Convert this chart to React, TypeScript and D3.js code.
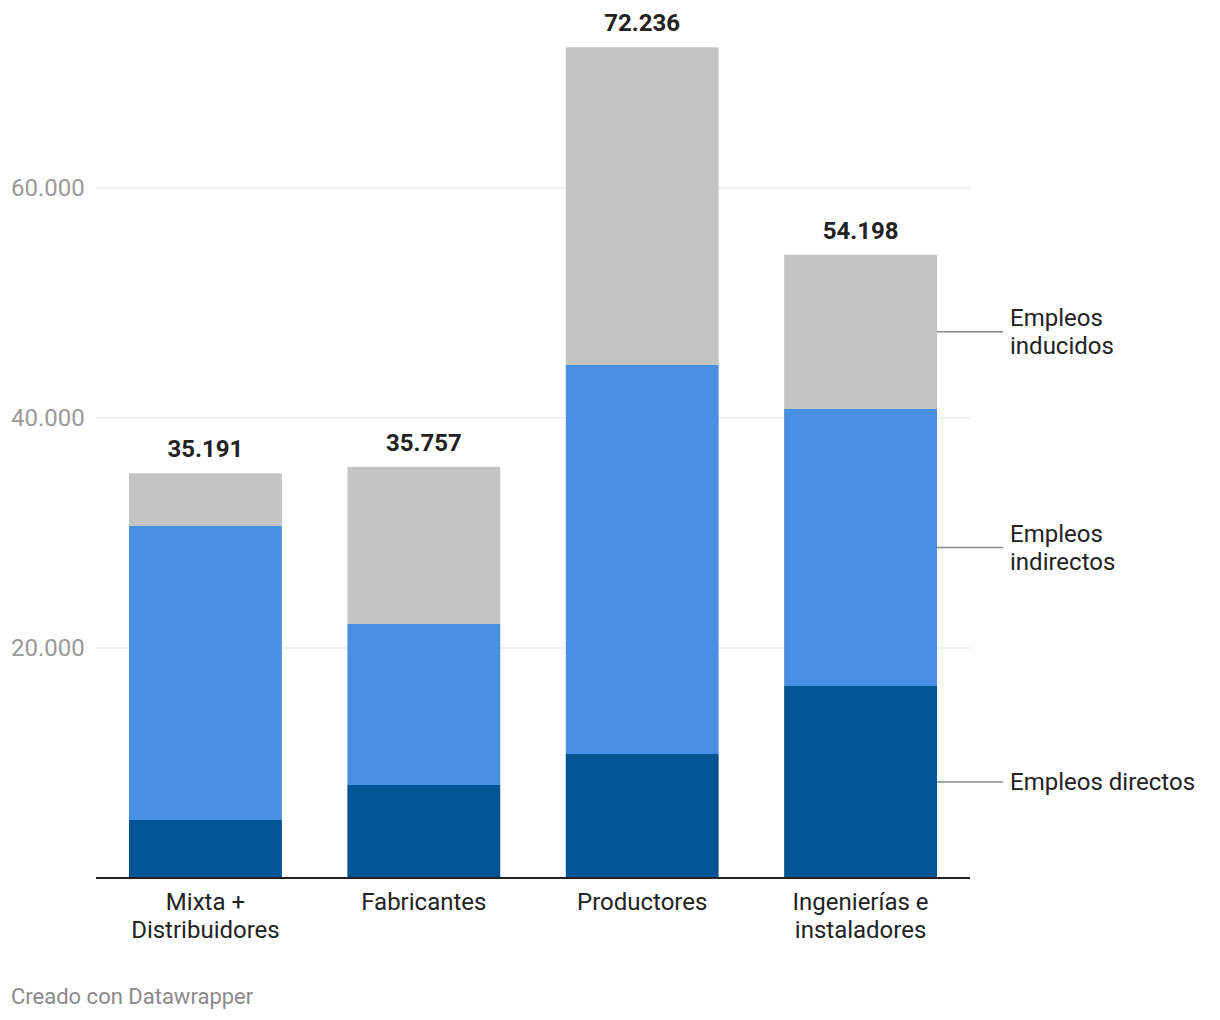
import * as d3 from "d3";

const categories = [["Mixta +", "Distribuidores"], ["Fabricantes"], ["Productores"], ["Ingenierías e", "instaladores"]];
const directos = [5043, 8087, 10783, 16696];
const indirectos = [25566, 14000, 33826, 24087];
const inducidos = [4582, 13670, 27627, 13415];
const totals = ["35.191", "35.757", "72.236", "54.198"];
const seriesNames = [["Empleos", "directos"], ["Empleos", "indirectos"], ["Empleos", "inducidos"]];
const colors = ["#005494", "#4a90e2", "#c4c4c4"];
const yTicks = [20000, 40000, 60000];

const W = 1220, H = 1020;
const font = "Roboto, 'Noto Sans', sans-serif";

export default function App() {
  const x0 = 96, x1 = 970;
  const y = d3.scaleLinear().domain([0, 60000]).range([878, 188]);
  const x = d3.scaleBand<number>().domain(d3.range(4)).range([x0 + 33, x1 - 33]).paddingInner(0.3).paddingOuter(0);
  const rows = categories.map((_, i) => ({ i, d: directos[i], n: indirectos[i], u: inducidos[i] }));
  const stack = d3.stack<any>().keys(["d", "n", "u"])(rows);
  const fmt = (v: number) => d3.format(",")(v).replace(/,/g, ".");
  const last = 3;

  return (
    <svg width={W} height={H} style={{ position: "absolute", left: 0, top: 0, background: "#fff" }} fontFamily={font}>
      {yTicks.map(t => (
        <g key={t}>
          <line x1={x0} x2={x1} y1={y(t)} y2={y(t)} stroke="#e2e2e2" strokeWidth={1.2} />
          <text x={11} y={y(t)} dy="0.35em" fontSize={24} fill="#9a9a9a">{fmt(t)}</text>
        </g>
      ))}
      {stack.map((s, k) => (
        <g key={k} fill={colors[k]}>
          {s.map((p, i) => (
            <rect key={i} x={x(i)} width={x.bandwidth()} y={y(p[1])} height={y(p[0]) - y(p[1])} />
          ))}
        </g>
      ))}
      <line x1={x0} x2={x1} y1={878} y2={878} stroke="#222" strokeWidth={2} />
      {rows.map((r, i) => (
        <text key={i} x={x(i)! + x.bandwidth() / 2} y={y(r.d + r.n + r.u) - 16} textAnchor="middle" fontSize={24} fontWeight={700} fill="#222">{totals[i]}</text>
      ))}
      {categories.map((c, i) => (
        <text key={i} x={x(i)! + x.bandwidth() / 2} y={910} textAnchor="middle" fontSize={24} fill="#222">
          {c.map((l, j) => <tspan key={j} x={x(i)! + x.bandwidth() / 2} dy={j === 0 ? 0 : 28}>{l}</tspan>)}
        </text>
      ))}
      {stack.map((s, k) => {
        const p = s[last];
        const ym = (y(p[0]) + y(p[1])) / 2;
        const xe = x(last)! + x.bandwidth();
        const lines = k === 0 ? [seriesNames[k].join(" ")] : seriesNames[k];
        const y0 = ym - (lines.length - 1) * 14;
        return (
          <g key={k}>
            <line x1={xe} x2={1003} y1={ym} y2={ym} stroke="#888" strokeWidth={1.5} />
            <text x={1010} y={y0} fontSize={24} fill="#222">
              {lines.map((l, j) => <tspan key={j} x={1010} dy={j === 0 ? "0.35em" : 28}>{l}</tspan>)}
            </text>
          </g>
        );
      })}
      <text x={11} y={1004} fontSize={22} fill="#8a8a8a">Creado con Datawrapper</text>
    </svg>
  );
}
